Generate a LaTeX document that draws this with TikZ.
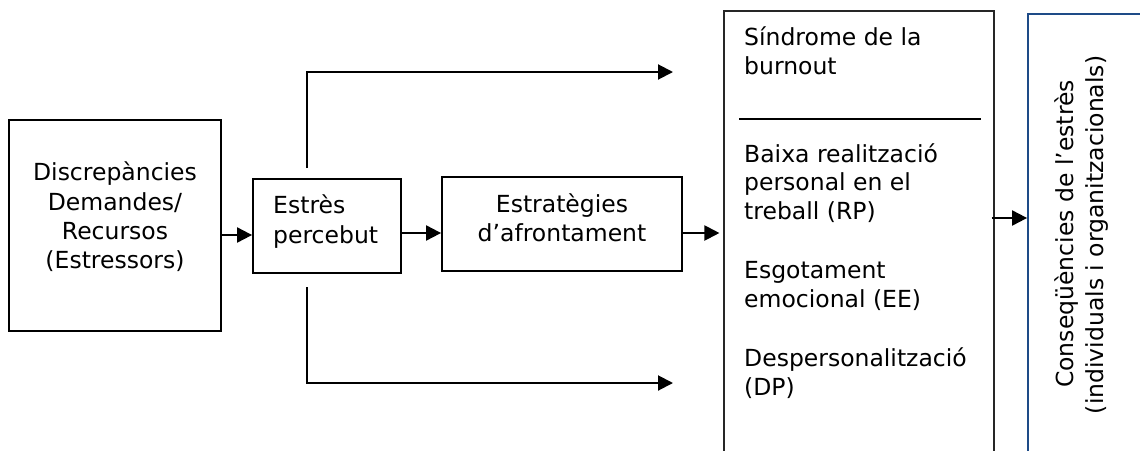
\documentclass[tikz,border=0pt]{standalone}
\usepackage{fontspec}
\setmainfont{DejaVu Sans}
\usetikzlibrary{arrows.meta}
\definecolor{navy}{RGB}{30,75,135}
\begin{document}
\begin{tikzpicture}[x=1pt,y=-1pt,
  box/.style={draw,line width=1.8pt,inner sep=0pt},
  thinbox/.style={draw=black!85,line width=1.1pt,inner sep=0pt},
  bluebox/.style={draw=navy,line width=1.8pt,inner sep=0pt},
  arr/.style={line width=2pt,-{Triangle[length=15pt,width=15pt]}},
  txt/.style={font=\fontsize{23.5}{29}\selectfont,inner sep=0pt,anchor=base},
  ltxt/.style={txt,anchor=base west}]
\useasboundingbox (0,0) rectangle (1140,450);
\clip (0,0) rectangle (1140,450);

% boxes
\node[box,minimum width=212pt,minimum height=211pt] (disc) at (115,225.5) {};
\node[box,minimum width=148pt,minimum height=94pt] (est) at (327,226) {};
\node[box,minimum width=240pt,minimum height=94pt] (str) at (562,224) {};
\node[thinbox,minimum width=270pt,minimum height=489pt] (burn) at (859,255.5) {};
\node[bluebox,minimum width=172pt,minimum height=486pt] (cons) at (1114,257) {};

% box texts
\node[txt] (d1) at (115,180) {Discrepàncies};
\node[txt] (d2) at (115,210) {Demandes/};
\node[txt] (d3) at (115,239) {Recursos};
\node[txt] (d4) at (115,268) {(Estressors)};

\node[ltxt] (e1) at (273,213) {Estrès};
\node[ltxt] (e2) at (273,243) {percebut};

\node[txt] (s1) at (562,212) {Estratègies};
\node[txt] (s2) at (562,241) {d’afrontament};

\node[ltxt] (b1) at (744,45) {Síndrome de la};
\node[ltxt] (b2) at (744,74) {burnout};
\coordinate (sepL) at (739,119);
\coordinate (sepR) at (981,119);
\draw[line width=1.8pt] (sepL) -- (sepR);
\node[ltxt] (b3) at (744,162) {Baixa realització};
\node[ltxt] (b4) at (744,190.5) {personal en el};
\node[ltxt] (b5) at (744,219) {treball (RP)};
\node[ltxt] (b6) at (744,278) {Esgotament};
\node[ltxt] (b7) at (744,307) {emocional (EE)};
\node[ltxt] (b8) at (744,366) {Despersonalització};
\node[ltxt] (b9) at (744,395) {(DP)};

\node[txt,rotate=90] (c1) at (1073,234) {Conseqüències de l’estrès};
\node[txt,rotate=90] (c2) at (1103,235) {(individuals i organitzacionals)};

% connectors
\draw[arr] (disc.east |- 0,235) -- (est.west |- 0,235);
\draw[arr] (est.east |- 0,233) -- (str.west |- 0,233);
\draw[arr,shorten >=4pt] (str.east |- 0,233) -- (burn.west |- 0,233);
\draw[arr,shorten <=-3pt] (burn.east |- 0,218) -- (cons.west |- 0,218);

\coordinate (up0) at (307,168);
\coordinate (up1) at (673,72);
\coordinate (dn0) at (307,287);
\coordinate (dn1) at (673,383);
\draw[arr] (up0) |- (up1);
\draw[arr] (dn0) |- (dn1);
\end{tikzpicture}
\end{document}
